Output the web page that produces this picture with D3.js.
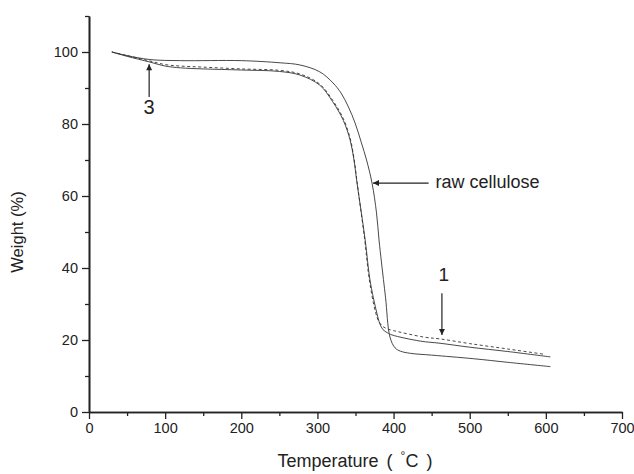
<!DOCTYPE html>
<html>
<head>
<meta charset="utf-8">
<script src="https://cdn.jsdelivr.net/npm/d3@7"></script>
<style>
  body { margin: 0; background: #fff; }
  svg { display: block; font-family: "Liberation Sans", Arial, sans-serif; }
</style>
</head>
<body>
<svg id="chart" width="634" height="474"></svg>
<script>
// ---- data ----
const xTicks = [0, 100, 200, 300, 400, 500, 600, 700];
const xMinorTicks = [50, 150, 250, 350, 450, 550, 650];
const yTicks = [0, 20, 40, 60, 80, 100];
const yMinorTicks = [10, 30, 50, 70, 90, 110];

// raw cellulose (solid, shifted right)
const rawTemp   = [30, 50, 80, 120, 200, 251, 277, 303, 320.5, 331, 340.8, 349.4, 357.9, 364.5, 371.7, 377.6, 380.9, 384.2, 389.4, 395.3, 402, 409, 422, 450, 505, 550, 606];
const rawWeight = [100, 99.0, 97.9, 97.6, 97.6, 97.0, 96.4, 94.5, 91.4, 88.6, 84.7, 80.3, 74.7, 70.0, 63.6, 55.3, 47.8, 41.4, 31.9, 20.8, 17.8, 16.9, 16.3, 15.8, 14.8, 13.8, 12.6];

// sample 3 (solid, lower plateau)
const s3Temp   = [30, 50, 80, 100, 120, 150, 200, 250, 277, 303, 320, 334, 343, 348, 352, 362.7, 369, 378, 382, 386, 392, 398, 435, 461, 500, 550, 606];
const s3Weight = [100, 98.8, 97.2, 96.1, 95.6, 95.3, 95.0, 94.6, 93.6, 90.8, 86.2, 81.0, 75.5, 70.0, 63.6, 47.8, 36.7, 27.5, 24.5, 22.9, 22.0, 21.4, 19.7, 19.1, 18.0, 16.8, 15.3];

// sample 1 (dashed)
const s1Temp   = [30, 50, 80, 100, 120, 150, 200, 250, 277, 303, 320, 334, 343, 348, 352, 362, 368, 376, 381, 387, 393, 400, 440, 461, 500, 550, 599];
const s1Weight = [100, 99.0, 97.5, 96.5, 96.1, 95.8, 95.3, 94.9, 93.9, 91.1, 86.6, 81.5, 76.0, 70.5, 64.0, 48.0, 37.0, 28.0, 25.0, 23.6, 23.0, 22.6, 20.8, 20.3, 19.0, 17.5, 16.0];

// ---- layout ----
const svg = d3.select("#chart");
const mLeft = 89, mRight = 622, mTop = 16, mBottom = 412;
const x = d3.scaleLinear().domain([0, 700]).range([mLeft, mRight]);
const y = d3.scaleLinear().domain([0, 110]).range([mBottom, mTop]);
const ink = "#222";

// axes
const xAxis = svg.append("g").attr("transform", `translate(0,${mBottom})`)
  .call(d3.axisBottom(x).tickValues(xTicks).tickSize(7).tickPadding(4).tickSizeOuter(0));
const xAxisMinor = svg.append("g").attr("transform", `translate(0,${mBottom})`)
  .call(d3.axisBottom(x).tickValues(xMinorTicks).tickSize(4).tickFormat("").tickSizeOuter(0));
const yAxis = svg.append("g").attr("transform", `translate(${mLeft},0)`)
  .call(d3.axisLeft(y).tickValues(yTicks).tickSize(7).tickPadding(4).tickSizeOuter(0));
const yAxisMinor = svg.append("g").attr("transform", `translate(${mLeft},0)`)
  .call(d3.axisLeft(y).tickValues(yMinorTicks).tickSize(4).tickFormat("").tickSizeOuter(0));

[xAxis, xAxisMinor, yAxis, yAxisMinor].forEach(g => {
  g.selectAll("path.domain").attr("stroke", ink).attr("stroke-width", 1.6);
  g.selectAll(".tick line").attr("stroke", ink).attr("stroke-width", 1.3);
  g.selectAll(".tick text").attr("fill", "#222").style("font-size", "14.5px")
   .style("font-family", "'Liberation Sans', Arial, sans-serif");
});

// curves
const line = d3.line().x(d => x(d[0])).y(d => y(d[1])).curve(d3.curveCatmullRom.alpha(0.5));
const series = [
  { t: rawTemp, w: rawWeight, dash: null },
  { t: s3Temp, w: s3Weight, dash: null },
  { t: s1Temp, w: s1Weight, dash: "3,2.5" }
];
series.forEach(s => {
  const pts = s.t.map((t, i) => [t, s.w[i]]);
  svg.append("path").datum(pts).attr("d", line)
    .attr("fill", "none").attr("stroke", "#333").attr("stroke-width", 0.9)
    .attr("stroke-dasharray", s.dash);
});

// arrow marker
svg.append("defs").append("marker").attr("id", "ah")
  .attr("viewBox", "0 0 10 10").attr("refX", 10).attr("refY", 5)
  .attr("markerWidth", 11).attr("markerHeight", 6).attr("markerUnits", "userSpaceOnUse")
  .attr("orient", "auto")
  .append("path").attr("d", "M0,0 L10,5 L0,10 z").attr("fill", ink);

function arrow(x1, y1, x2, y2) {
  svg.append("line").attr("x1", x(x1)).attr("y1", y(y1)).attr("x2", x(x2)).attr("y2", y(y2))
    .attr("stroke", ink).attr("stroke-width", 1.2).attr("marker-end", "url(#ah)");
}
// "3" arrow
arrow(79, 87.5, 79, 96.6);
svg.append("text").attr("x", x(79)).attr("y", y(84.2)).attr("text-anchor", "middle")
  .attr("dominant-baseline", "middle").style("font-size", "20px").attr("fill", ink).text("3");
// "raw cellulose" arrow
arrow(446, 63.6, 373, 63.6);
svg.append("text").attr("x", x(455)).attr("y", y(63.6)).attr("dominant-baseline", "middle")
  .style("font-size", "18px").attr("fill", ink).text("raw cellulose");
// "1" arrow
arrow(463.5, 33, 463.5, 21.4);
svg.append("text").attr("x", x(466)).attr("y", y(37.8)).attr("text-anchor", "middle")
  .attr("dominant-baseline", "middle").style("font-size", "19px").attr("fill", ink).text("1");

// axis titles
const xt = svg.append("text").attr("x", 355).attr("y", 467)
  .attr("text-anchor", "middle").style("font-size", "18px").style("word-spacing", "3px").attr("fill", ink);
xt.append("tspan").text("Temperature ( ");
xt.append("tspan").attr("dy", -7).style("font-size", "12px").text("°");
xt.append("tspan").attr("dy", 7).text("C )");

svg.append("text").attr("transform", `translate(23,232) rotate(-90)`)
  .attr("text-anchor", "middle").style("font-size", "16.5px").attr("fill", ink).text("Weight (%)");
</script>
</body>
</html>
